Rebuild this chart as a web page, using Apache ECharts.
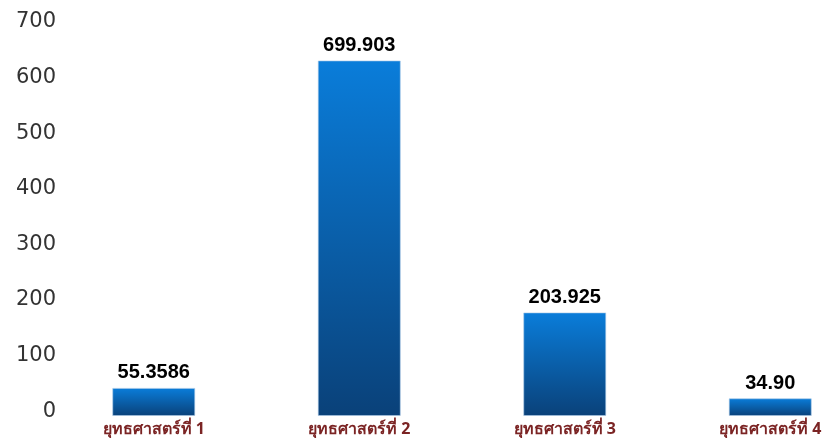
<!DOCTYPE html>
<html>
<head>
<meta charset="utf-8">
<script src="https://cdn.jsdelivr.net/npm/echarts@6/dist/echarts.min.js"></script>
<style>
html,body{margin:0;padding:0;background:#fff;}
#c{width:827px;height:438px;}
</style>
</head>
<body>
<div id="c"></div>
<script>
var categories = ['ยุทธศาสตร์ที่ 1', 'ยุทธศาสตร์ที่ 2', 'ยุทธศาสตร์ที่ 3', 'ยุทธศาสตร์ที่ 4'];
var values = [55.3586, 699.903, 203.925, 34.90];
var valueLabels = ['55.3586', '699.903', '203.925', '34.90'];
var tickLabels = [0, 100, 200, 300, 400, 500, 600, 700];

var chart = echarts.init(document.getElementById('c'));
chart.setOption({
  animation: false,
  grid: {left: 51, width: 822, top: 22, bottom: 22, containLabel: false, outerBoundsMode: 'none'},
  xAxis: {
    type: 'category',
    data: categories,
    axisLine: {show: false},
    axisTick: {show: false},
    axisLabel: {
      margin: 5,
      color: '#7b2424',
      fontWeight: 'bold',
      fontSize: 16,
      fontFamily: 'Tahoma, "Noto Sans", "DejaVu Sans", sans-serif'
    }
  },
  yAxis: [{
    type: 'value',
    min: -8.6,
    max: 700,
    splitLine: {show: false},
    axisLine: {show: false},
    axisTick: {show: false},
    axisLabel: {
      customValues: tickLabels,
      margin: -5,
      color: '#333',
      fontSize: 21,
      fontFamily: '"DejaVu Sans", sans-serif'
    }
  }, {
    type: 'value',
    min: 0,
    max: 775.6,
    show: false,
    splitLine: {show: false}
  }],
  series: [{
    type: 'bar',
    yAxisIndex: 1,
    data: values,
    barWidth: 83,
    itemStyle: {
      color: new echarts.graphic.LinearGradient(0, 0, 0, 1, [
        {offset: 0, color: '#0a7dda'},
        {offset: 1, color: '#0a4179'}
      ]),
      borderColor: 'rgba(170,200,230,0.6)',
      borderWidth: 1
    },
    label: {
      show: true,
      position: 'top',
      distance: 5,
      color: '#000',
      fontWeight: 'bold',
      fontSize: 20,
      fontFamily: '"Liberation Sans", Arial, sans-serif',
      formatter: function (p) { return valueLabels[p.dataIndex]; }
    }
  }]
});
</script>
</body>
</html>
